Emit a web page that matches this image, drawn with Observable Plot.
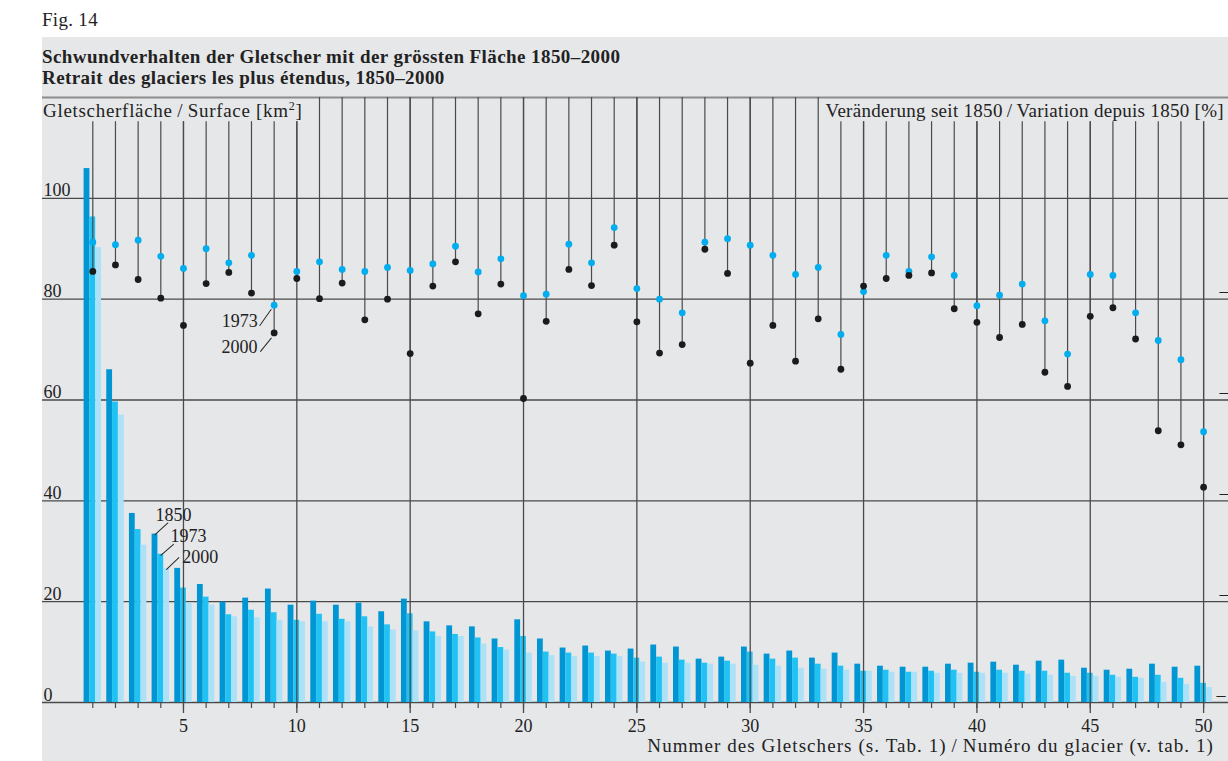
<!DOCTYPE html>
<html>
<head>
<meta charset="utf-8">
<script src="https://cdn.jsdelivr.net/npm/d3@7"></script>
<script src="https://cdn.jsdelivr.net/npm/@observablehq/plot@0.6"></script>
<style>
  html, body { margin: 0; padding: 0; background: #fff; overflow: hidden; }
  body { font-family: "Liberation Serif", "Times New Roman", serif; color: #222; width: 1228px; height: 761px; position: relative; }
  #fig { position: absolute; left: 42px; top: 10px; font-size: 19px; line-height: 20px; letter-spacing: 0.3px; }
  #panel { position: absolute; left: 42px; top: 37px; width: 1186px; height: 724px; background: #e6e7e9; overflow: hidden; }
  #title { position: absolute; left: 0; top: 9px; font-weight: bold; font-size: 19px; line-height: 21px; letter-spacing: 0.42px; white-space: nowrap; }
  #chart { position: absolute; left: 0; top: 53px; }
  .lab { position: absolute; font-size: 19px; line-height: 19px; white-space: nowrap; }
  .lab sup { font-size: 12px; line-height: 0; vertical-align: 7px; }
  #ylab { left: 1px; top: 64px; letter-spacing: 0.7px; }
  #rlab { right: 4px; top: 64px; letter-spacing: 0.3px; padding-left: 6px; background: #e6e7e9; }
  #xlab { right: 14px; top: 699px; letter-spacing: 1.08px; }
</style>
</head>
<body>
<div id="fig">Fig. 14</div>
<div id="panel">
  <div id="title">Schwundverhalten der Gletscher mit der grössten Fläche 1850–2000<br>Retrait des glaciers les plus étendus, 1850–2000</div>
  <div id="chart"></div>
  <div class="lab" id="ylab">Gletscherfläche&#8201;/&#8201;Surface [km<sup>2</sup>]</div>
  <div class="lab" id="rlab">Veränderung seit 1850&#8201;/&#8201;Variation depuis 1850 [%]</div>
  <div class="lab" id="xlab">Nummer des Gletschers (s. Tab. 1)&#8201;/&#8201;Numéro du glacier (v. tab. 1)</div>
</div>
<script>
// Glacier area [km²] in 1850, 1973, 2000 (glaciers 1..50)
const area1850 = [105.9, 66.0, 37.5, 33.4, 26.6, 23.4, 19.9, 20.7, 22.5, 19.3, 20.1, 19.3, 19.7, 18.0, 20.5, 16.0, 15.2, 15.0, 12.6, 16.4, 12.6, 10.8, 11.2, 10.2, 10.6, 11.4, 11.0, 8.6, 9.0, 11.0, 9.6, 10.2, 8.8, 9.8, 7.6, 7.2, 7.0, 7.0, 7.6, 7.8, 8.0, 7.4, 8.2, 8.4, 6.8, 6.4, 6.6, 7.6, 7.0, 7.2];
const area1973 = [96.3, 59.6, 34.3, 29.4, 22.7, 20.9, 17.4, 18.3, 17.8, 16.3, 17.5, 16.5, 17.0, 15.4, 17.6, 14.0, 13.5, 12.8, 10.9, 13.1, 10.0, 9.8, 9.8, 9.6, 8.8, 9.0, 8.4, 7.8, 8.2, 10.0, 8.6, 8.8, 7.6, 7.2, 6.2, 6.4, 6.0, 6.2, 6.4, 6.0, 6.4, 6.2, 6.2, 5.8, 5.8, 5.4, 5.0, 5.4, 4.8, 3.8];
const area2000 = [90.2, 57.0, 31.2, 26.6, 19.7, 19.3, 17.0, 16.8, 16.3, 16.0, 16.0, 16.0, 15.0, 14.4, 14.2, 13.1, 13.1, 11.6, 10.4, 9.8, 9.3, 9.1, 9.1, 9.1, 8.0, 7.8, 7.8, 7.6, 7.6, 7.4, 7.2, 6.8, 6.6, 6.4, 6.2, 6.0, 6.0, 5.8, 5.8, 5.8, 5.8, 5.6, 5.4, 5.2, 5.2, 5.0, 4.8, 4.0, 3.6, 3.0];
// Area relative to 1850 [%]
const pct1973 = [91.3, 90.8, 91.7, 88.5, 86.1, 90.0, 87.2, 88.7, 78.8, 85.5, 87.4, 85.9, 85.5, 86.3, 85.7, 87.0, 90.5, 85.4, 88.0, 80.7, 81.0, 90.9, 87.2, 94.2, 82.1, 80.0, 77.3, 91.3, 92.0, 90.7, 88.7, 84.9, 86.3, 73.0, 81.5, 88.7, 85.5, 88.4, 84.7, 78.7, 80.8, 83.0, 75.7, 69.1, 84.9, 84.7, 77.3, 71.8, 68.0, 53.7];
const pct2000 = [85.5, 86.8, 83.9, 80.2, 74.8, 83.1, 85.3, 81.2, 73.3, 84.1, 80.1, 83.2, 75.9, 80.0, 69.2, 82.6, 87.4, 77.1, 83.0, 60.3, 75.6, 85.9, 82.7, 90.7, 75.5, 69.3, 71.0, 89.9, 85.1, 67.3, 74.8, 67.7, 76.1, 66.1, 82.6, 84.1, 84.7, 85.2, 78.1, 75.4, 72.4, 75.0, 65.5, 62.7, 76.6, 78.3, 72.1, 53.9, 51.1, 42.7];
const years = ["1850", "1973", "2000"];
const barColors = ["#0096d3", "#1fc2f2", "#ace1f8"];
const yTicks = [0, 20, 40, 60, 80, 100];
const rightTicks2 = [80, 60, 40, 20]; // right-hand change marks (–20 … –80), only the minus shows
const rightTicks3 = [0];              // –100, only the minus shows
const xTickLabels = [5, 10, 15, 20, 25, 30, 35, 40, 45, 50];

const glaciers = d3.range(1, area1850.length + 1);
const bars = glaciers.flatMap((g, i) => [
  {g, year: years[0], v: area1850[i], k: -1},
  {g, year: years[1], v: area1973[i], k: 0},
  {g, year: years[2], v: area2000[i], k: 1}
]);
const BW = 0.256; // bar width in glacier units
const underLabel = g => g <= 10 || g >= 34;
const TOP = 120, LABELTOP = 115.2;
const line = "#4a4a4a";
const FS = 18;
const leader = {anchor: "start", shape: "spike", r: 0, stroke: "#2a2a2a", fill: "none", strokeWidth: 1};

const chart = Plot.plot({
  width: 1186,
  height: 671,
  margin: 0,
  x: {domain: [1, 50], range: [50.3, 1161.1], axis: null},
  y: {domain: [0, TOP], range: [612, 7], axis: null},
  color: {domain: years, range: barColors},
  style: {background: "transparent", fontFamily: "'Liberation Serif', 'Times New Roman', serif", fontSize: FS + "px", color: "#222"},
  marks: [
    Plot.ruleY(yTicks, {stroke: line, strokeWidth: 1.4}),
    Plot.ruleY([TOP], {stroke: "#8c8c8c", strokeWidth: 2}),
    Plot.rectY(bars, {x1: d => d.g + (d.k - 0.5) * BW, x2: d => d.g + (d.k + 0.5) * BW, y1: 0, y2: "v", fill: "year"}),
    Plot.ruleX(glaciers, {x: d => d, y1: d => Math.min(pct1973[d - 1], pct2000[d - 1]), y2: d => underLabel(d) ? LABELTOP : TOP, stroke: line, strokeWidth: 1.2}),
    Plot.ruleX(xTickLabels, {x: d => d, y1: -2.2, y2: d => underLabel(d) ? LABELTOP : TOP, stroke: line, strokeWidth: 1.3}),
    Plot.ruleX(glaciers, {x: d => d, y1: -1.2, y2: 0, stroke: line, strokeWidth: 1.2}),
    Plot.dot(glaciers, {x: d => d, y: d => pct1973[d - 1], r: 3.4, fill: "#00adef"}),
    Plot.dot(glaciers, {x: d => d, y: d => pct2000[d - 1], r: 3.4, fill: "#1b1b1b"}),
    // y tick labels (left)
    Plot.text(yTicks, {y: d => d, text: d => String(d), frameAnchor: "left", textAnchor: "start", lineAnchor: "bottom", dx: 1, dy: -2, fontSize: FS, fill: "#222"}),
    // right-hand change marks at the picture edge
    Plot.text(rightTicks2, {y: d => d, text: () => "–", frameAnchor: "right", textAnchor: "end", lineAnchor: "bottom", dx: 0, dy: -2, fontSize: FS, fill: "#222"}),
    Plot.text(rightTicks3, {y: d => d, text: () => "–", frameAnchor: "right", textAnchor: "end", lineAnchor: "bottom", dx: -3, dy: -2, fontSize: FS, fill: "#222"}),
    // x tick labels
    Plot.text(xTickLabels, {x: d => d, y: 0, text: d => String(d), textAnchor: "middle", lineAnchor: "bottom", dy: 29, fontSize: FS, fill: "#222"}),
    // legend annotations for dots (glacier 9)
    Plot.text([9], {x: d => d, y: d => pct1973[d - 1], text: () => years[1], textAnchor: "end", lineAnchor: "bottom", dx: -16.5, dy: 21.3, fontSize: FS, fill: "#222"}),
    Plot.text([9], {x: d => d, y: d => pct2000[d - 1], text: () => years[2], textAnchor: "end", lineAnchor: "bottom", dx: -16.6, dy: 19.7, fontSize: FS, fill: "#222"}),
    Plot.vector([9], {x: d => d, y: d => pct1973[d - 1], dx: -14.3, dy: 20.3, length: 19.6, rotate: 35, ...leader}),
    Plot.vector([9], {x: d => d, y: d => pct2000[d - 1], dx: -13.6, dy: 18.4, length: 17, rotate: 39, ...leader}),
    // legend annotations for bars (glacier 4)
    Plot.text([4], {x: d => d - BW, y: d => area1850[d - 1], text: () => years[0], textAnchor: "start", lineAnchor: "bottom", dx: 0.5, dy: -13.6, fontSize: FS, fill: "#222"}),
    Plot.text([4], {x: d => d, y: d => area1973[d - 1], text: () => years[1], textAnchor: "start", lineAnchor: "bottom", dx: 9.7, dy: -11.8, fontSize: FS, fill: "#222"}),
    Plot.text([4], {x: d => d + BW, y: d => area2000[d - 1], text: () => years[2], textAnchor: "start", lineAnchor: "bottom", dx: 15.6, dy: -5, fontSize: FS, fill: "#222"}),
    Plot.vector([4], {x: d => d - BW, y: d => area1850[d - 1], dx: 0, dy: 0.5, length: 17.4, rotate: 48, ...leader}),
    Plot.vector([4], {x: d => d, y: d => area1973[d - 1], dx: 0, dy: 1, length: 16.8, rotate: 49, ...leader}),
    Plot.vector([4], {x: d => d + BW, y: d => area2000[d - 1], dx: 0, dy: 1, length: 17, rotate: 46, ...leader})
  ]
});
document.getElementById("chart").appendChild(chart);
</script>
</body>
</html>
